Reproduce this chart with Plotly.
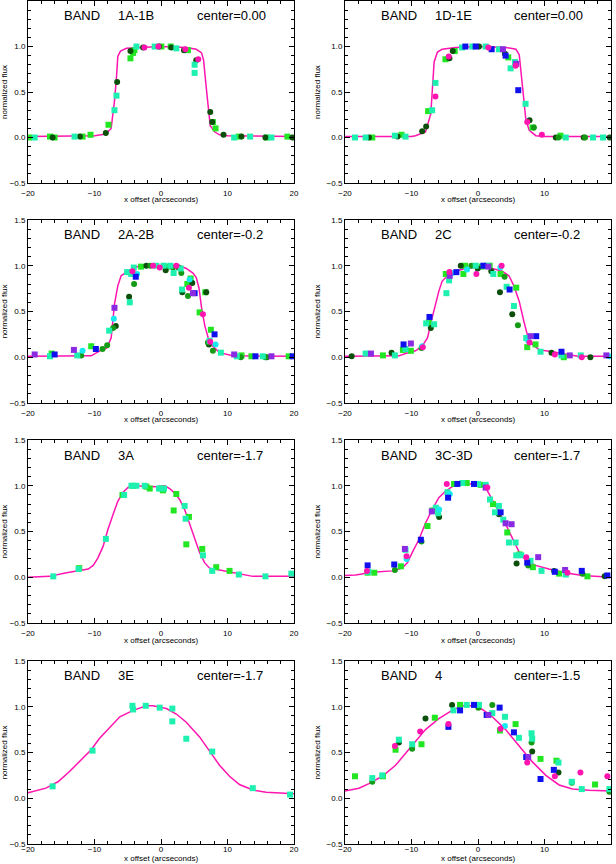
import plotly.graph_objects as go

BANDS = ["1A-1B", "1D-1E", "2A-2B", "2C", "3A", "3C-3D", "3E", "4"]
CENTERS = ["center=0.00", "center=0.00", "center=-0.2", "center=-0.2",
           "center=-1.7", "center=-1.7", "center=-1.7", "center=-1.5"]
X_TICKS = [-20, -10, 0, 10, 20]
Y_TICKS = [-0.5, 0.0, 0.5, 1.0, 1.5]
X_TITLE = "x offset (arcseconds)"
Y_TITLE = "normalized flux"

# ---- model profiles (magenta line) ----
P1_LX = [-20, -10, -9, -8.3, -7.5, -7.0, -6.7, -6.5, -6.1, -5.2, -3.2, 0, 3.8, 5.3, 6.1, 6.4, 6.8, 7.1, 7.4, 8.1, 8.8, 10, 20]
P1_LY = [0.01, 0.02, 0.03, 0.04, 0.10, 0.40, 0.66, 0.89, 0.95, 0.98, 0.99, 1.0, 0.99, 0.97, 0.93, 0.85, 0.55, 0.30, 0.13, 0.06, 0.03, 0.02, 0.01]
P2_LX = [-20, -10, -9.4, -7.9, -7.1, -6.9, -6.6, -6.1, -5.4, -3.4, 0, 4.2, 5.7, 6.2, 6.7, 6.9, 7.2, 7.7, 8.7, 10, 20]
P2_LY = [0.01, 0.01, 0.02, 0.06, 0.26, 0.48, 0.83, 0.94, 0.97, 0.99, 1.0, 0.99, 0.97, 0.91, 0.59, 0.41, 0.19, 0.08, 0.02, 0.01, 0.01]
P3_LX = [-20, -14.2, -10.5, -9.2, -8.2, -7.5, -7.0, -6.5, -6.0, -5.2, -4.2, -3.2, 2.8, 3.8, 4.8, 5.3, 5.7, 6.1, 6.6, 7.1, 7.8, 8.8, 10.8, 20]
P3_LY = [0.01, 0.015, 0.015, 0.07, 0.10, 0.21, 0.58, 0.78, 0.89, 0.93, 0.97, 1.0, 1.0, 0.97, 0.92, 0.87, 0.76, 0.54, 0.34, 0.21, 0.12, 0.05, 0.015, 0.01]
P4_LX = [-20, -13, -11.9, -10.9, -9.4, -8.4, -7.6, -6.9, -6.4, -5.9, -5.4, -4.6, -3.4, -1.85, 0, 2.15, 3.65, 4.65, 5.4, 6.2, 6.9, 7.4, 8.2, 9.2, 10.7, 13.2, 15, 20]
P4_LY = [0.01, 0.01, 0.015, 0.04, 0.07, 0.12, 0.21, 0.43, 0.58, 0.72, 0.83, 0.89, 0.94, 0.97, 0.985, 0.97, 0.94, 0.89, 0.78, 0.61, 0.39, 0.25, 0.14, 0.08, 0.065, 0.03, 0.01, 0.01]
P5_LX = [-20, -16.8, -14.2, -12.2, -10.95, -10.2, -9.5, -8.7, -8.0, -7.2, -6.5, -5.7, -5.0, -4.2, -2.2, -0.7, 0.55, 1.3, 2.05, 2.8, 3.55, 4.3, 5.05, 5.8, 6.55, 7.3, 8.8, 10.8, 12.8, 13.8, 20]
P5_LY = [0.0, 0.01, 0.05, 0.07, 0.09, 0.13, 0.21, 0.34, 0.52, 0.69, 0.83, 0.93, 0.98, 1.0, 0.99, 0.99, 1.0, 0.97, 0.92, 0.85, 0.74, 0.58, 0.41, 0.27, 0.16, 0.10, 0.08, 0.055, 0.025, 0.01, 0.01]
P6_LX = [-20, -18.4, -15.9, -12.9, -11.4, -10.6, -9.9, -8.9, -7.9, -6.9, -5.9, -4.9, -3.9, -2.85, -0.85, 0.15, 1.15, 2.15, 3.15, 4.15, 5.15, 6.15, 7.15, 8.65, 10.65, 13.1, 15.7, 18.2, 20]
P6_LY = [0.02, 0.025, 0.055, 0.07, 0.10, 0.16, 0.27, 0.41, 0.59, 0.74, 0.87, 0.94, 0.99, 1.02, 1.02, 1.01, 0.98, 0.85, 0.72, 0.58, 0.43, 0.28, 0.19, 0.13, 0.09, 0.05, 0.02, 0.01, 0.0]
P7_LX = [-20, -17.3, -15.5, -13.8, -12.0, -10.5, -9.3, -7.7, -6.2, -4.2, -2.2, -1.2, 0.8, 2.3, 3.8, 5.8, 7.3, 8.8, 10.3, 11.8, 13.8, 15.8, 20]
P7_LY = [0.06, 0.11, 0.18, 0.29, 0.42, 0.53, 0.65, 0.78, 0.89, 0.96, 1.01, 1.01, 0.98, 0.92, 0.83, 0.67, 0.51, 0.36, 0.24, 0.15, 0.09, 0.065, 0.05]
P8_LX = [-20, -17.9, -16.4, -14.4, -12.4, -10.9, -9.4, -7.9, -5.9, -3.9, -2.35, -0.85, 0.65, 2.15, 4.15, 6.15, 8.15, 10.2, 12.2, 14.2, 16.7, 20]
P8_LY = [0.08, 0.11, 0.16, 0.24, 0.36, 0.49, 0.62, 0.75, 0.87, 0.96, 1.01, 1.01, 0.97, 0.89, 0.75, 0.58, 0.40, 0.25, 0.145, 0.10, 0.087, 0.08]

# ---- measured points (x, y, colour group) ----
P1_X = [-19.85, -19.0, -16.7, -16.3, -16.0, -13.0, -12.2, -11.8, -10.6, -8.3, -7.9, -7.0, -6.7, -6.6, -4.6, -4.6, -4.2, -4.0, -3.7, -2.7, -2.5, -0.95, -0.4, -0.3, 0.05, 1.45, 1.55, 2.3, 3.45, 3.65, 4.05, 5.05, 5.05, 5.3, 5.6, 7.4, 7.7, 7.8, 8.2, 9.4, 11.0, 11.7, 12.1, 13.4, 15.7, 15.9, 16.6, 19.0, 19.75]
P1_Y = [0.00, 0.00, 0.01, 0.00, 0.00, 0.01, 0.01, 0.01, 0.03, 0.05, 0.14, 0.30, 0.46, 0.61, 0.87, 0.95, 0.93, 0.96, 1.00, 0.99, 0.99, 1.00, 1.00, 1.00, 1.00, 1.00, 0.99, 0.98, 0.96, 0.97, 0.96, 0.80, 0.71, 0.85, 0.86, 0.28, 0.17, 0.17, 0.10, 0.03, 0.00, 0.01, 0.01, 0.01, 0.00, 0.00, 0.00, 0.01, 0.00]
P1_C = ["g", "aq", "g", "dg", "g", "aq", "dg", "g", "g", "dg", "g", "aq", "aq", "dg", "g", "dg", "g", "g", "aq", "dg", "mag", "aq", "mag", "dg", "g", "g", "dg", "aq", "dg", "mag", "g", "aq", "aq", "dg", "mag", "dg", "dg", "g", "g", "dg", "aq", "g", "dg", "aq", "dg", "g", "aq", "g", "dg"]

P2_X = [-18.5, -16.9, -16.4, -15.9, -12.5, -12.1, -11.5, -10.9, -8.4, -7.8, -7.5, -6.9, -6.4, -6.4, -4.9, -4.3, -4.4, -3.8, -3.5, -2.4, -1.9, -0.85, -0.35, 0.15, 1.15, 1.55, 2.05, 3.15, 3.75, 4.05, 4.15, 4.55, 4.9, 5.55, 5.65, 5.75, 6.05, 7.15, 7.4, 7.75, 8.2, 8.4, 9.6, 11.7, 12.1, 12.4, 13.2, 15.9, 16.1, 17.3, 18.8, 19.8]
P2_Y = [0.0, 0.0, 0.0, 0.0, 0.02, 0.01, 0.03, 0.01, 0.07, 0.12, 0.29, 0.30, 0.60, 0.45, 0.86, 0.87, 0.89, 0.95, 0.95, 0.99, 1.0, 1.0, 1.0, 1.0, 1.0, 0.99, 0.97, 0.97, 0.97, 0.92, 0.90, 0.88, 0.76, 0.83, 0.79, 0.81, 0.52, 0.37, 0.17, 0.19, 0.11, 0.11, 0.03, 0.0, 0.0, 0.02, 0.0, 0.0, 0.0, 0.0, 0.0, 0.0]
P2_C = ["aq", "aq", "dg", "g", "aq", "dg", "g", "aq", "dg", "dg", "g", "aq", "aq", "mag", "g", "dg", "mag", "dg", "g", "aq", "bl", "aq", "bl", "dg", "aq", "mag", "bl", "aq", "pu", "dg", "bl", "g", "aq", "aq", "mag", "pu", "bl", "aq", "mag", "dg", "g", "mg", "mag", "dg", "mg", "g", "aq", "dg", "mg", "aq", "aq", "dg"]

P3_X = [-19.0, -16.7, -16.45, -16.0, -13.1, -12.6, -12.0, -11.8, -10.5, -9.8, -8.8, -8.1, -7.8, -7.2, -7.0, -7.1, -6.8, -4.8, -4.7, -5.1, -4.5, -4.3, -4.1, -3.8, -3.6, -4.05, -3.0, -2.2, -1.6, -1.2, -0.7, -0.2, 0.4, 0.7, 0.95, 1.4, 1.8, 1.9, 2.3, 2.65, 2.95, 3.05, 3.15, 3.2, 3.95, 4.05, 4.2, 4.3, 4.45, 4.7, 4.8, 5.05, 5.8, 6.3, 6.65, 6.8, 7.05, 7.2, 7.3, 7.5, 7.4, 8.05, 8.2, 7.8, 9.0, 11.0, 11.4, 12.1, 12.0, 13.6, 14.2, 15.3, 15.7, 15.9, 16.6, 19.2, 19.8]
P3_Y = [0.03, 0.01, 0.04, 0.03, 0.08, 0.02, 0.02, 0.07, 0.12, 0.09, 0.09, 0.13, 0.29, 0.32, 0.54, 0.42, 0.34, 0.66, 0.60, 0.93, 0.91, 0.94, 0.98, 0.88, 0.91, 0.80, 0.99, 1.0, 1.0, 1.0, 1.0, 0.98, 1.0, 0.95, 0.99, 1.0, 0.98, 0.92, 1.0, 0.98, 0.97, 0.92, 0.74, 0.71, 0.80, 0.67, 0.76, 0.85, 0.86, 0.81, 0.70, 0.70, 0.49, 0.47, 0.71, 0.71, 0.16, 0.14, 0.18, 0.30, 0.17, 0.25, 0.14, 0.07, 0.05, 0.03, 0.01, 0.02, 0.0, 0.01, 0.01, 0.01, 0.0, 0.0, 0.01, 0.01, 0.01]
P3_C = ["pu", "aq", "g", "bl", "pu", "aq", "mg", "cy", "g", "bl", "mg", "mg", "aq", "mg", "pu", "cy", "dg", "dg", "aq", "aq", "aq", "mag", "aq", "bl", "cy", "mg", "g", "dg", "mg", "mag", "aq", "mag", "aq", "dg", "g", "aq", "mg", "aq", "mag", "dg", "aq", "mg", "aq", "dg", "g", "mg", "mag", "cy", "g", "dg", "pu", "bl", "g", "mag", "g", "dg", "mg", "dg", "aq", "g", "mag", "bl", "cy", "mg", "aq", "pu", "aq", "g", "mg", "g", "bl", "aq", "mg", "dg", "pu", "g", "bl"]

P4_X = [-19.0, -16.9, -16.1, -14.3, -13.0, -12.5, -11.2, -11.3, -10.9, -10.1, -10.1, -8.5, -8.4, -8.3, -7.8, -7.3, -7.4, -7.1, -6.6, -4.75, -4.85, -4.35, -4.25, -4.3, -3.85, -3.25, -2.6, -2.2, -1.95, -1.65, -1.0, -0.35, -0.25, -0.05, 0.55, 0.8, 1.4, 1.55, 1.75, 2.0, 2.3, 3.55, 3.35, 3.4, 3.3, 4.0, 4.3, 4.75, 5.15, 5.4, 5.75, 6.0, 7.4, 7.25, 7.55, 7.75, 7.9, 8.75, 8.65, 9.4, 11.05, 11.55, 12.55, 12.55, 12.9, 13.8, 15.45, 15.6, 16.9, 19.3, 19.7]
P4_Y = [0.01, 0.04, 0.04, 0.02, 0.05, 0.02, 0.14, 0.08, 0.09, 0.15, 0.07, 0.10, 0.12, 0.11, 0.37, 0.44, 0.38, 0.32, 0.36, 0.70, 0.91, 0.84, 0.89, 0.93, 0.92, 0.93, 1.0, 0.91, 1.0, 0.96, 1.0, 1.0, 0.91, 0.97, 0.99, 1.0, 1.0, 0.99, 1.0, 0.94, 0.91, 1.0, 0.98, 0.91, 0.71, 0.88, 0.77, 0.74, 0.47, 0.56, 0.76, 0.35, 0.11, 0.21, 0.18, 0.16, 0.23, 0.23, 0.14, 0.06, 0.05, 0.03, 0.06, 0.02, 0.0, 0.02, 0.02, 0.0, 0.0, 0.02, 0.01]
P4_C = ["dg", "aq", "pu", "g", "dg", "aq", "bl", "g", "aq", "pu", "g", "mg", "cy", "mag", "aq", "bl", "g", "dg", "aq", "aq", "g", "aq", "pu", "mag", "cy", "bl", "dg", "g", "g", "cy", "mg", "aq", "mag", "dg", "g", "bl", "aq", "pu", "g", "dg", "aq", "mag", "cy", "g", "dg", "mg", "aq", "bl", "dg", "aq", "g", "mg", "g", "aq", "cy", "mag", "pu", "bl", "g", "aq", "dg", "mag", "bl", "aq", "g", "pu", "aq", "mag", "dg", "pu", "cy"]

P5_X = [-16.2, -12.4, -12.3, -8.3, -5.8, -5.55, -4.45, -4.2, -3.7, -2.45, -2.2, -1.7, -0.3, -0.05, 0.3, 0.45, 2.3, 1.9, 3.55, 3.7, 3.8, 4.2, 6.2, 6.3, 7.7, 8.3, 10.3, 11.7, 15.7, 19.6]
P5_Y = [0.01, 0.09, 0.10, 0.42, 0.90, 0.90, 1.0, 1.0, 1.0, 1.0, 0.99, 0.97, 0.97, 0.97, 0.95, 0.97, 0.91, 0.73, 0.78, 0.64, 0.36, 0.66, 0.31, 0.24, 0.07, 0.11, 0.07, 0.03, 0.01, 0.04]
P5_C = ["aq", "aq", "g", "aq", "g", "aq", "aq", "g", "aq", "aq", "g", "g", "aq", "g", "g", "aq", "g", "g", "aq", "aq", "g", "g", "g", "aq", "aq", "g", "g", "aq", "aq", "aq"]

P6_X = [-16.6, -16.7, -16.6, -16.5, -15.6, -12.6, -12.5, -11.6, -11.0, -10.9, -10.75, -10.75, -8.6, -8.5, -7.6, -6.95, -6.85, -6.35, -6.0, -5.85, -5.85, -4.7, -4.5, -4.6, -4.25, -3.6, -3.1, -2.35, -1.7, -0.6, 0.0, 0.4, 1.15, 1.15, 1.4, 1.8, 2.25, 2.55, 3.15, 3.4, 3.15, 3.8, 4.15, 4.4, 4.65, 5.05, 5.65, 5.75, 5.8, 6.25, 6.5, 7.25, 7.4, 7.55, 7.9, 8.25, 9.05, 9.55, 11.45, 11.55, 12.2, 13.1, 13.2, 13.45, 15.6, 15.7, 16.45, 19.05, 19.45]
P6_Y = [0.13, 0.07, 0.05, 0.06, 0.05, 0.14, 0.08, 0.12, 0.31, 0.30, 0.23, 0.20, 0.41, 0.39, 0.56, 0.72, 0.73, 0.76, 0.70, 0.66, 0.74, 1.02, 0.87, 0.93, 0.91, 1.02, 1.02, 1.03, 1.03, 1.02, 1.02, 1.01, 1.01, 0.98, 0.98, 0.85, 0.80, 0.71, 0.78, 0.71, 0.69, 0.63, 0.59, 0.49, 0.38, 0.58, 0.38, 0.24, 0.15, 0.25, 0.24, 0.22, 0.16, 0.13, 0.18, 0.11, 0.22, 0.07, 0.07, 0.06, 0.04, 0.08, 0.03, 0.05, 0.07, 0.04, 0.01, 0.01, 0.02]
P6_C = ["bl", "mag", "g", "aq", "g", "bl", "mg", "g", "pu", "aq", "mag", "cy", "bl", "mg", "g", "pu", "g", "aq", "aq", "dg", "cy", "mag", "bl", "aq", "cy", "g", "bl", "aq", "g", "bl", "aq", "g", "aq", "pu", "mag", "aq", "g", "aq", "aq", "bl", "dg", "aq", "pu", "g", "aq", "pu", "aq", "aq", "dg", "g", "aq", "mag", "bl", "mg", "aq", "g", "pu", "aq", "dg", "bl", "g", "pu", "aq", "mag", "bl", "mg", "g", "dg", "bl"]

P7_X = [-16.3, -10.3, -4.3, -4.2, -2.3, -0.2, 1.7, 1.7, 3.8, 7.7, 13.8, 19.4]
P7_Y = [0.13, 0.52, 1.01, 0.97, 1.01, 0.99, 0.98, 0.84, 0.65, 0.51, 0.11, 0.04]
P7_C = ["aq"] * 12

P8_X = [-18.5, -15.9, -15.9, -14.4, -14.3, -12.5, -12.4, -11.9, -11.9, -9.9, -9.9, -8.7, -8.5, -7.9, -6.5, -4.45, -4.45, -3.9, -3.7, -2.7, -2.7, -1.7, -0.6, 0.05, 0.15, 1.3, 1.55, 2.15, 2.15, 3.25, 3.4, 3.3, 4.05, 4.05, 5.4, 5.65, 6.15, 7.25, 7.4, 7.55, 8.05, 8.15, 8.05, 8.15, 9.4, 9.4, 11.4, 11.55, 11.8, 12.1, 12.1, 14.1, 14.1, 15.4, 15.6, 17.6, 19.45, 19.75, 19.75]
P8_Y = [0.24, 0.22, 0.18, 0.25, 0.24, 0.57, 0.53, 0.64, 0.61, 0.59, 0.54, 0.73, 0.59, 0.87, 0.88, 0.81, 0.78, 1.02, 0.96, 0.96, 1.02, 1.02, 1.02, 0.99, 1.02, 0.91, 0.91, 1.02, 0.93, 0.99, 0.76, 0.74, 0.89, 0.79, 0.72, 0.81, 0.66, 0.45, 0.39, 0.45, 0.71, 0.65, 0.61, 0.51, 0.43, 0.21, 0.31, 0.24, 0.41, 0.39, 0.28, 0.18, 0.17, 0.28, 0.10, 0.15, 0.24, 0.10, 0.07]
P8_C = ["g", "aq", "mg", "aq", "g", "mag", "g", "aq", "dg", "aq", "mg", "mag", "g", "dg", "g", "mag", "bl", "dg", "aq", "bl", "g", "aq", "bl", "mg", "aq", "bl", "pu", "mg", "aq", "bl", "mag", "g", "aq", "cy", "bl", "g", "aq", "bl", "mag", "pu", "aq", "aq", "mg", "dg", "g", "bl", "bl", "mag", "g", "aq", "dg", "aq", "mg", "mag", "aq", "g", "mag", "aq", "mg"]

LINES = [(P1_LX, P1_LY), (P2_LX, P2_LY), (P3_LX, P3_LY), (P4_LX, P4_LY),
         (P5_LX, P5_LY), (P6_LX, P6_LY), (P7_LX, P7_LY), (P8_LX, P8_LY)]
POINTS = [(P1_X, P1_Y, P1_C), (P2_X, P2_Y, P2_C), (P3_X, P3_Y, P3_C), (P4_X, P4_Y, P4_C),
          (P5_X, P5_Y, P5_C), (P6_X, P6_Y, P6_C), (P7_X, P7_Y, P7_C), (P8_X, P8_Y, P8_C)]

# ---- styling ----
LINE_COLOR = "#ff14b0"
GROUP_STYLE = {
    "g": ("#22e622", "square"),
    "dg": ("#0b4f0b", "circle"),
    "mg": ("#149a14", "circle"),
    "aq": ("#1ef0b0", "square"),
    "cy": ("#14eaf0", "circle"),
    "bl": ("#1010ee", "square"),
    "pu": ("#8a2be2", "square"),
    "mag": ("#ff14b0", "circle"),
}
H = 864
COL_X = [(0.0455, 0.4773), (0.5601, 0.9919)]
ROW_Y = [(0.7882, 0.9988), (0.5336, 0.7454), (0.2789, 0.4907), (0.02315, 0.2350)]
XTITLE_GAP = [17, 17, 17, None]   # px below the axis box; bottom row sits on the page edge
XLABEL_STANDOFF = [2, 2, 2, -3]
FONT = "Liberation Sans"

fig = go.Figure()
layout = dict(
    width=616, height=H, margin=dict(l=0, r=0, t=0, b=0, autoexpand=False),
    paper_bgcolor="white", plot_bgcolor="white", showlegend=False,
    font=dict(family=FONT, color="black"),
)
annotations = []

for i in range(8):
    n = i + 1
    row, col = divmod(i, 2)
    xa = "x" if n == 1 else f"x{n}"
    ya = "y" if n == 1 else f"y{n}"
    lx, ly = LINES[i]
    fig.add_trace(go.Scatter(x=lx, y=ly, mode="lines", xaxis=xa, yaxis=ya,
                             line=dict(color=LINE_COLOR, width=1.5), hoverinfo="skip"))
    px_, py_, pc_ = POINTS[i]
    for grp, (colr, sym) in GROUP_STYLE.items():
        gx = [x for x, c in zip(px_, pc_) if c == grp]
        gy = [y for y, c in zip(py_, pc_) if c == grp]
        if not gx:
            continue
        fig.add_trace(go.Scatter(x=gx, y=gy, mode="markers", xaxis=xa, yaxis=ya,
                                 marker=dict(color=colr, symbol=sym, size=6, line=dict(width=0))))
    common = dict(showline=True, linecolor="black", linewidth=1, mirror="allticks",
                  ticks="inside", ticklen=5, tickcolor="black", tickwidth=1, automargin=False,
                  showgrid=False, zeroline=False, tickfont=dict(size=8, family=FONT))
    layout["xaxis" + ("" if n == 1 else str(n))] = dict(
        common, domain=list(COL_X[col]), anchor=ya, range=[-20, 20],
        tickvals=X_TICKS, ticklabelstandoff=XLABEL_STANDOFF[row],
        minor=dict(ticks="inside", tick0=-20, dtick=2, ticklen=3, tickcolor="black"),
    )
    layout["yaxis" + ("" if n == 1 else str(n))] = dict(
        common, domain=list(ROW_Y[row]), anchor=xa, range=[-0.5, 1.5],
        tickvals=Y_TICKS, tickformat=".1f",
        minor=dict(ticks="inside", tick0=-0.5, dtick=0.1, ticklen=3, tickcolor="black"),
        title=dict(text=Y_TITLE, font=dict(size=8, family=FONT), standoff=4),
    )
    if XTITLE_GAP[row] is None:
        ty, tanchor = 0.0, "bottom"
    else:
        ty, tanchor = ROW_Y[row][0] - XTITLE_GAP[row] / H, "middle"
    annotations.append(dict(text=X_TITLE, x=sum(COL_X[col]) / 2, y=ty,
                            xref="paper", yref="paper", xanchor="center", yanchor=tanchor,
                            showarrow=False, borderpad=0,
                            font=dict(size=8, family=FONT, color="black")))
    for txt, xpos in (("BAND", 0.128), (BANDS[i], 0.331), (CENTERS[i], 0.628)):
        annotations.append(dict(text=txt, x=xpos, y=0.918, xref=f"{xa} domain", yref=f"{ya} domain",
                                xanchor="left", yanchor="middle", showarrow=False,
                                font=dict(size=13, family=FONT, color="black")))

layout["annotations"] = annotations
fig.update_layout(**layout)
fig.write_html("out.html", config={"displayModeBar": False},
               post_script="document.body.style.margin='0px';")
